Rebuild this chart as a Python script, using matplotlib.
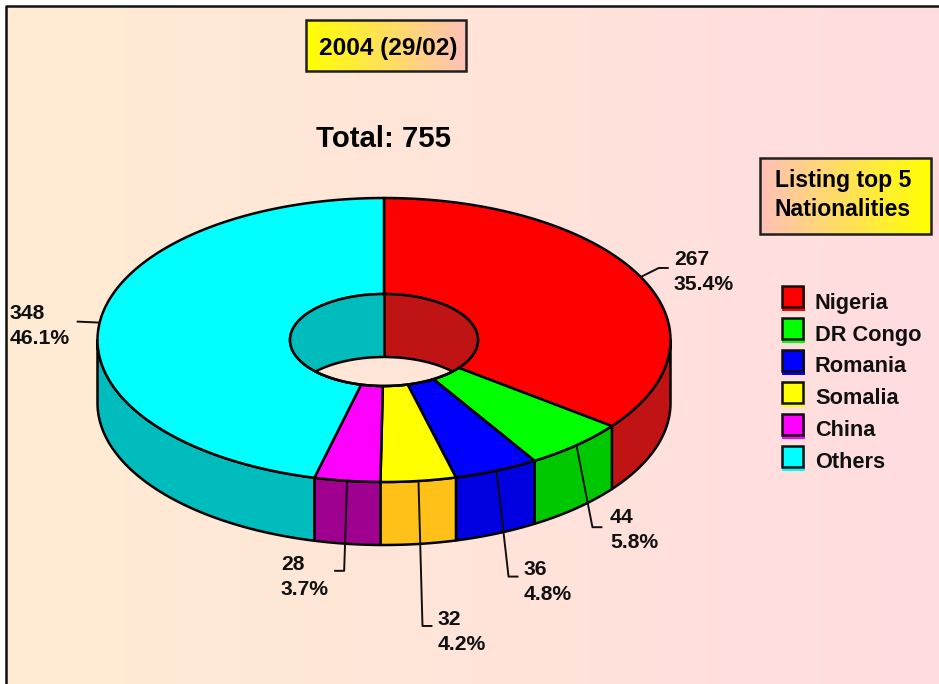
import numpy as np
import matplotlib
matplotlib.use("Agg")
import matplotlib.pyplot as plt
from matplotlib.patches import Polygon, Rectangle
from matplotlib.colors import LinearSegmentedColormap

# datos del grafico
nationalities = ["Nigeria", "DR Congo", "Romania", "Somalia", "China", "Others"]
counts = [267, 44, 36, 32, 28, 348]
total_label = "Total: 755"
period_label = "2004 (29/02)"
listing_label = "Listing top 5\nNationalities"

# colores
top_colors = ["#FF0000", "#00FF00", "#0000FF", "#FFFF00", "#FF00FF", "#00FFFF"]
side_colors = ["#C01414", "#00C800", "#0000E0", "#FFC018", "#A00090", "#00BCBC"]

# geometria en pixeles de la imagen
W, H = 939, 684
CX, CY = 384, 340
RX, RY = 286.5, 142
IN_RX, IN_RY = 94, 46
DEPTH = 63
LW = 1.8

# codo de cada linea guia y texto, relativo al punto medio de la porcion
elbows = [(18, -9), (16, 82), (12, 106), (4, 145), (-3, 90), (-22, -1)]
stubs = [9, 9, 9, 9, -9, 0]
label_pos = [(674, 272), (610, 530), (524, 582), (438, 632), (281, 577), (10, 326)]


def pt(theta, rx=RX, ry=RY, cy=CY):
    # angulo en grados, horario desde arriba
    t = np.radians(theta)
    return np.column_stack([CX + rx * np.sin(t), cy - ry * np.cos(t)])


def arc(a, b, **kw):
    n = max(int(abs(b - a)) * 2, 2)
    return pt(np.linspace(a, b, n), **kw)


fig = plt.figure(figsize=(W / 100, H / 100), dpi=100)
ax = fig.add_axes([0, 0, 1, 1])
ax.axis("off")

# fondo con degradado
bg_cmap = LinearSegmentedColormap.from_list("bg", ["#FFECD3", "#FFDCE0"])
grad = np.linspace(0, 1, 256).reshape(1, -1)
ax.imshow(grad, cmap=bg_cmap, extent=[6, W, H, 6], aspect="auto", zorder=0)
ax.plot([6, 6, W], [H, 6, 6], color="#101010", lw=LW, zorder=1)

fracs = np.array(counts) / sum(counts)
edges = np.concatenate([[0], np.cumsum(fracs) * 360])

# paredes exteriores (solo la parte de adelante)
for i in range(len(counts)):
    a = max(edges[i], 90)
    b = min(edges[i + 1], 270)
    if b <= a:
        continue
    front = arc(a, b)
    back = arc(b, a, cy=CY + DEPTH)
    ax.add_patch(Polygon(np.vstack([front, back]), closed=True, fc=side_colors[i],
                         ec="black", lw=LW, joinstyle="round", zorder=2))

# cara superior
for i in range(len(counts)):
    outer = arc(edges[i], edges[i + 1])
    inner = arc(edges[i + 1], edges[i], rx=IN_RX, ry=IN_RY)
    ax.add_patch(Polygon(np.vstack([outer, inner]), closed=True, fc=top_colors[i],
                         ec="black", lw=LW, joinstyle="round", zorder=3))

# pared interior del agujero
ax.add_patch(Polygon(arc(0, 180, rx=IN_RX, ry=IN_RY), closed=True, fc=side_colors[0], ec="none", zorder=4))
ax.add_patch(Polygon(arc(180, 360, rx=IN_RX, ry=IN_RY), closed=True, fc=side_colors[-1], ec="none", zorder=4))
ax.plot([CX, CX], [CY - IN_RY, CY - IN_RY + DEPTH], color="black", lw=LW, zorder=5)

# lo que se ve a traves del agujero
lim = np.degrees(np.arccos((DEPTH / 2) / IN_RY))
lens = np.vstack([arc(180 + lim, 180 - lim, rx=IN_RX, ry=IN_RY),
                  arc(lim, -lim, rx=IN_RX, ry=IN_RY, cy=CY + DEPTH)])
hole = ax.imshow(grad, cmap=bg_cmap, extent=[6, W, H, 6], aspect="auto", zorder=5.5)
hole.set_clip_path(Polygon(lens, closed=True, transform=ax.transData))
ax.add_patch(Polygon(lens, closed=True, fc="none", ec="black", lw=LW, zorder=6))
ax.plot(*arc(0, 360, rx=IN_RX, ry=IN_RY).T, color="black", lw=LW, zorder=6)

# lineas guia y etiquetas
for i, (v, f) in enumerate(zip(counts, fracs)):
    mid = (edges[i] + edges[i + 1]) / 2
    p = pt(mid)[0]
    ex, ey = p[0] + elbows[i][0], p[1] + elbows[i][1]
    ax.plot([p[0], ex, ex + stubs[i]], [p[1], ey, ey], color="#101010", lw=1.4, zorder=7)
    ax.text(label_pos[i][0], label_pos[i][1], f"{v}\n{f * 100:.1f}%", ha="left", va="center",
            fontsize=15.2, fontweight="bold", family="Liberation Sans", color="#101010",
            linespacing=1.35, zorder=8)

# cajas con degradado
box_cmap = LinearSegmentedColormap.from_list("box", ["#FFFF00", "#FFC0B8"])
ax.imshow(grad, cmap=box_cmap, extent=[306, 466, 71, 20], aspect="auto", zorder=2)
ax.add_patch(Rectangle((306, 20), 160, 51, fc="none", ec="#202020", lw=LW, zorder=3))
ax.text(388, 49, period_label, ha="center", va="center", fontsize=17.6, fontweight="bold",
        family="Liberation Sans", zorder=4)
ax.text(384, 139, total_label, ha="center", va="center", fontsize=21.2, fontweight="bold",
        family="Liberation Sans", zorder=4)

ax.imshow(grad[:, ::-1], cmap=box_cmap, extent=[760, 931, 234, 158], aspect="auto", zorder=2)
ax.add_patch(Rectangle((760, 158), 171, 76, fc="none", ec="#202020", lw=LW, zorder=3))
ax.text(775, 195, listing_label, ha="left", va="center", fontsize=16.6, fontweight="bold",
        family="Liberation Sans", linespacing=1.28, zorder=4)

# leyenda
for i, name in enumerate(nationalities):
    y0 = 286 + 32 * i
    ax.add_patch(Rectangle((782, y0), 23, 25, fc=top_colors[i], ec="none", zorder=3))
    ax.add_patch(Rectangle((782, y0), 21, 21, fc=top_colors[i], ec="#101010", lw=LW, zorder=4))
    ax.text(815, y0 + 17, name, ha="left", va="center", fontsize=15.7, fontweight="bold",
            family="Liberation Sans", color="#101010", zorder=4)

ax.set_xlim(0, W)
ax.set_ylim(H, 0)
fig.savefig("out.png", dpi=100, facecolor="white")
